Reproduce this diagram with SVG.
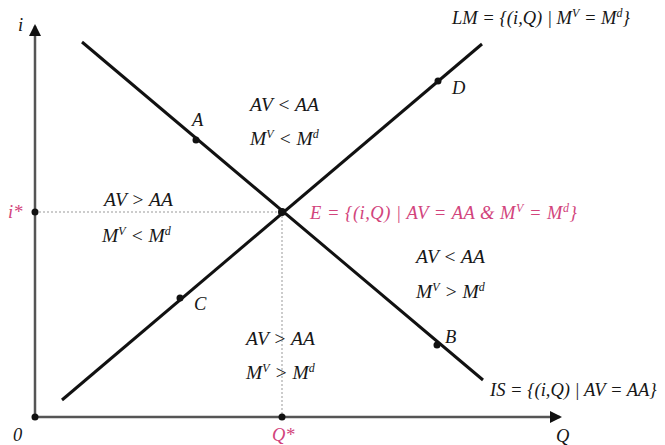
<svg xmlns="http://www.w3.org/2000/svg" width="665" height="445" viewBox="0 0 665 445">
<style>
text{font-family:"Liberation Serif","Times New Roman",serif;font-style:italic;font-size:18.5px;fill:#161616}
.reg{font-size:19.5px}
.pink{fill:#d2447c}
.up{font-size:12px}
.axis{stroke:#555;stroke-width:2.5;fill:none}
.curve{stroke:#111;stroke-width:3;fill:none}
.guide{stroke:#999;stroke-width:1;stroke-dasharray:2 2;fill:none}
.dot{fill:#111}
</style>
<defs>
<marker id="ah" markerWidth="12" markerHeight="12" refX="10" refY="6" orient="auto" markerUnits="userSpaceOnUse" viewBox="0 0 12 12">
<path d="M0,0 L12,6 L0,12 z" fill="#111"/>
</marker>
</defs>
<rect width="665" height="445" fill="#fff"/>
<g id="connectors">
<line class="axis" x1="35" y1="417" x2="35" y2="26" marker-end="url(#ah)"/>
<line class="axis" x1="35" y1="417" x2="560" y2="417" marker-end="url(#ah)"/>
<line class="guide" x1="35" y1="212" x2="282" y2="212"/>
<line class="guide" x1="282" y1="212" x2="282" y2="417"/>
<line class="curve" x1="82" y1="42" x2="483" y2="380"/>
<line class="curve" x1="62" y1="400" x2="482" y2="44"/>
</g>
<g id="axis-labels">
<text x="18" y="31" font-size="15">i</text>
<text x="13" y="441" font-style="normal" font-size="14">0</text>
<text x="556" y="442" font-size="17">Q</text>
</g>
<g id="origin"><circle class="dot" cx="35" cy="417" r="3.5"/></g>
<g id="istar"><circle class="dot" cx="35" cy="212" r="3.5"/><text class="pink" x="8" y="218" font-size="16">i*</text></g>
<g id="qstar"><circle class="dot" cx="282" cy="417" r="3.5"/><text class="pink" x="272" y="441" font-size="16">Q*</text></g>
<g id="A"><circle class="dot" cx="196" cy="140" r="3.5"/><text x="192" y="126" font-size="17">A</text></g>
<g id="D"><circle class="dot" cx="438" cy="81" r="3.5"/><text x="452" y="94" font-size="17">D</text></g>
<g id="C"><circle class="dot" cx="180" cy="298" r="3.5"/><text x="194" y="310" font-size="17">C</text></g>
<g id="B"><circle class="dot" cx="437" cy="345" r="3.5"/><text x="445" y="343" font-size="17">B</text></g>
<g id="E"><circle class="dot" cx="282" cy="212" r="4"/>
<text class="pink" x="310" y="219" font-size="20" letter-spacing="0.5">E = {(i,Q) | AV = AA &amp; M<tspan class="up" dy="-7">V</tspan><tspan dy="7"> = M</tspan><tspan class="up" dy="-7">d</tspan><tspan dy="7">}</tspan></text></g>
<g id="LM"><text x="452" y="24">LM = {(i,Q) | M<tspan class="up" dy="-7">V</tspan><tspan dy="7"> = M</tspan><tspan class="up" dy="-7">d</tspan><tspan dy="7">}</tspan></text></g>
<g id="IS"><text x="490" y="396">IS = {(i,Q) | AV = AA}</text></g>
<g id="region-top">
<text class="reg" x="250" y="111">AV &lt; AA</text>
<text class="reg" x="250" y="145">M<tspan class="up" dy="-7">V</tspan><tspan dy="7"> &lt; M</tspan><tspan class="up" dy="-7">d</tspan></text>
</g>
<g id="region-left">
<text class="reg" x="104" y="206">AV &gt; AA</text>
<text class="reg" x="102" y="242">M<tspan class="up" dy="-7">V</tspan><tspan dy="7"> &lt; M</tspan><tspan class="up" dy="-7">d</tspan></text>
</g>
<g id="region-right">
<text class="reg" x="416" y="263">AV &lt; AA</text>
<text class="reg" x="416" y="298">M<tspan class="up" dy="-7">V</tspan><tspan dy="7"> &gt; M</tspan><tspan class="up" dy="-7">d</tspan></text>
</g>
<g id="region-bottom">
<text class="reg" x="246" y="345">AV &gt; AA</text>
<text class="reg" x="246" y="379">M<tspan class="up" dy="-7">V</tspan><tspan dy="7"> &gt; M</tspan><tspan class="up" dy="-7">d</tspan></text>
</g>
</svg>
